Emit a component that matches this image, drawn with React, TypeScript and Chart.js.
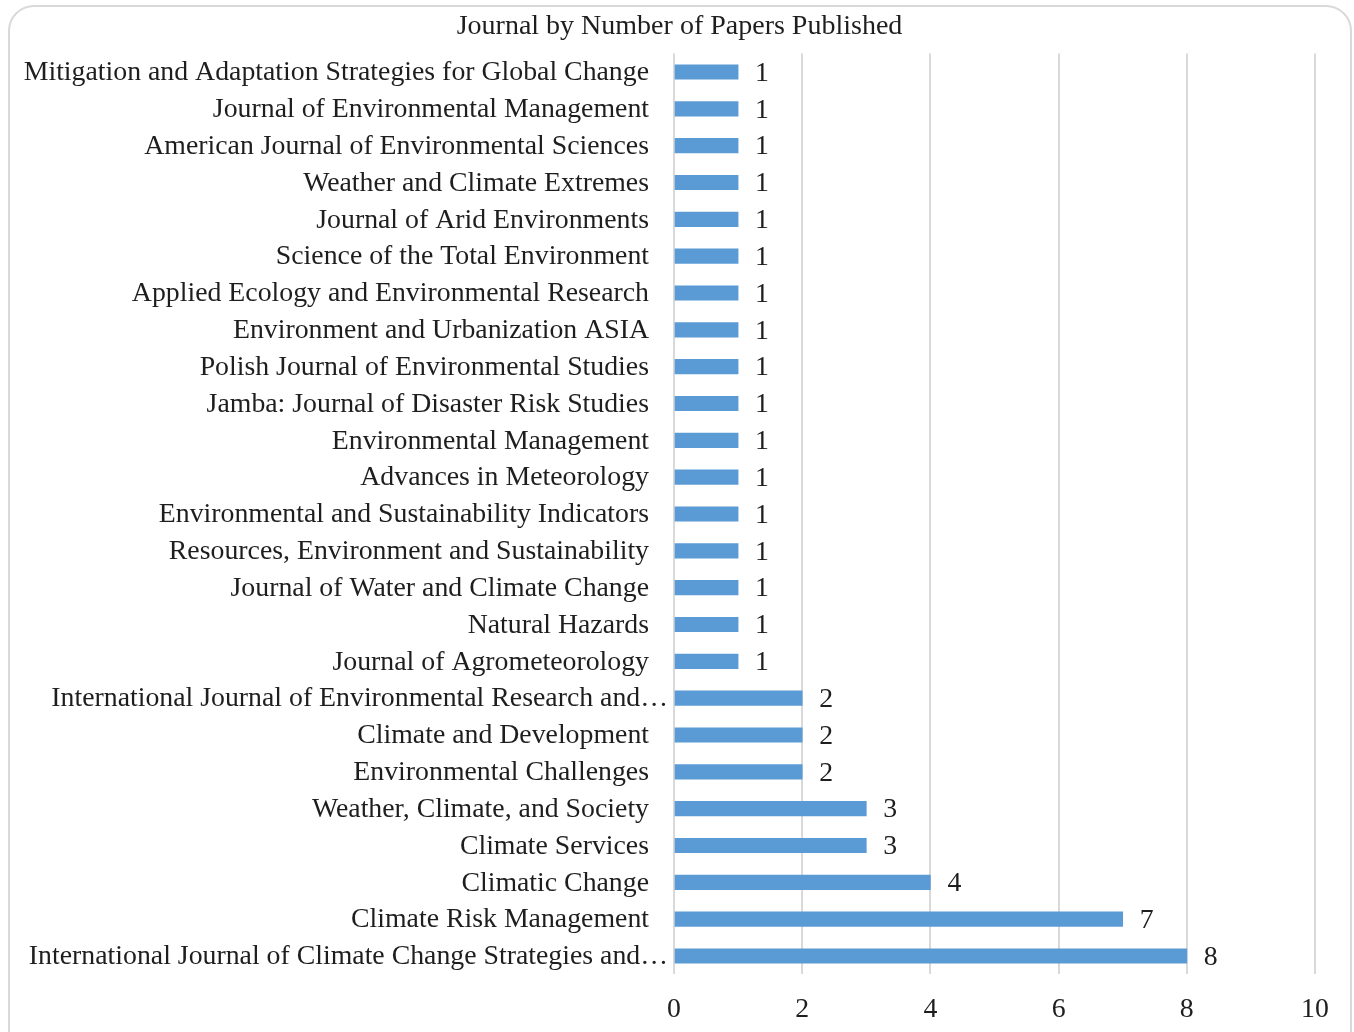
import React, { useEffect, useRef } from "react";
import { Chart, registerables } from "chart.js";

Chart.register(...registerables);

const chartTitle = "Journal by Number of Papers Published";

const categories = [
  "Mitigation and Adaptation Strategies for Global Change",
  "Journal of Environmental Management",
  "American Journal of Environmental Sciences",
  "Weather and Climate Extremes",
  "Journal of Arid Environments",
  "Science of the Total Environment",
  "Applied Ecology and Environmental Research",
  "Environment and Urbanization ASIA",
  "Polish Journal of Environmental Studies",
  "Jamba: Journal of Disaster Risk Studies",
  "Environmental Management",
  "Advances in Meteorology",
  "Environmental and Sustainability Indicators",
  "Resources, Environment and Sustainability",
  "Journal of Water and Climate Change",
  "Natural Hazards",
  "Journal of Agrometeorology",
  "International Journal of Environmental Research and…",
  "Climate and Development",
  "Environmental Challenges",
  "Weather, Climate, and Society",
  "Climate Services",
  "Climatic Change",
  "Climate Risk Management",
  "International Journal of Climate Change Strategies and…",
];

const papers = [1, 1, 1, 1, 1, 1, 1, 1, 1, 1, 1, 1, 1, 1, 1, 1, 1, 2, 2, 2, 3, 3, 4, 7, 8];

const xMin = 0;
const xMax = 10;
const xStep = 2;

const FONT = "'Liberation Serif', 'Times New Roman', serif";
const FONT_SIZE = 27.8;
const TITLE_SIZE = 28;
const TEXT_COLOR = "#1e1e1e";
const BAR_COLOR = "#5b9bd5";
const GRID_COLOR = "#d9d9d9";

const labelsPlugin = {
  id: "customLabels",
  afterDraw(chart: any) {
    const ctx = chart.ctx;
    const yScale = chart.scales.y;
    const left = chart.chartArea.left;
    ctx.save();
    // title
    ctx.font = `${TITLE_SIZE}px ${FONT}`;
    ctx.fillStyle = TEXT_COLOR;
    ctx.textAlign = "center";
    ctx.textBaseline = "middle";
    ctx.fillText(chartTitle, 679.5, 26.5);
    // category labels
    ctx.font = `${FONT_SIZE}px ${FONT}`;
    ctx.textAlign = "right";
    categories.forEach((label, i) => {
      const y = yScale.getPixelForTick(i);
      const offset = label.endsWith("…") ? 6 : 25;
      ctx.fillText(label, left - offset, y + 1);
    });
    // value labels
    const meta = chart.getDatasetMeta(0);
    ctx.textAlign = "left";
    meta.data.forEach((bar: any, i: number) => {
      ctx.fillText(String(papers[i]), bar.x + 17, bar.y + 1.5);
    });
    ctx.restore();
  },
};

export default function App() {
  const canvasRef = useRef<HTMLCanvasElement | null>(null);

  useEffect(() => {
    if (!canvasRef.current) return;
    const chart = new Chart(canvasRef.current, {
      type: "bar",
      data: {
        labels: categories,
        datasets: [
          {
            data: papers,
            backgroundColor: BAR_COLOR,
            borderWidth: 0,
            barThickness: 14.5,
          },
        ],
      },
      options: {
        indexAxis: "y",
        animation: false,
        responsive: false,
        devicePixelRatio: 1,
        layout: { padding: { left: 0, right: 39, top: 53.6, bottom: 0 } },
        plugins: {
          legend: { display: false },
          tooltip: { enabled: false },
          title: { display: false },
        },
        scales: {
          x: {
            min: xMin,
            max: xMax,
            ticks: {
              stepSize: xStep,
              color: TEXT_COLOR,
              font: { family: FONT, size: FONT_SIZE, lineHeight: 1.2 },
              padding: 19,
            },
            grid: { color: GRID_COLOR, lineWidth: 2, drawTicks: false },
            border: { display: false },
            afterFit: (scale: any) => {
              scale.height = 57.6;
            },
          },
          y: {
            ticks: { display: false },
            grid: { display: false, drawTicks: false },
            border: { display: false },
            afterFit: (scale: any) => {
              scale.width = 674;
            },
          },
        },
      },
      plugins: [labelsPlugin],
    });
    return () => chart.destroy();
  }, []);

  return (
    <div
      style={{
        position: "fixed",
        left: 0,
        top: 0,
        width: 1354,
        height: 1032,
        overflow: "hidden",
        background: "#ffffff",
      }}
    >
      <div
        style={{
          position: "absolute",
          left: 8,
          top: 5,
          width: 1344,
          height: 1080,
          boxSizing: "border-box",
          border: "2px solid #d9d9d9",
          borderRadius: 26,
        }}
      />
      <canvas
        ref={canvasRef}
        width={1354}
        height={1032}
        style={{ position: "absolute", left: 0, top: 0, width: 1354, height: 1032 }}
      />
    </div>
  );
}
